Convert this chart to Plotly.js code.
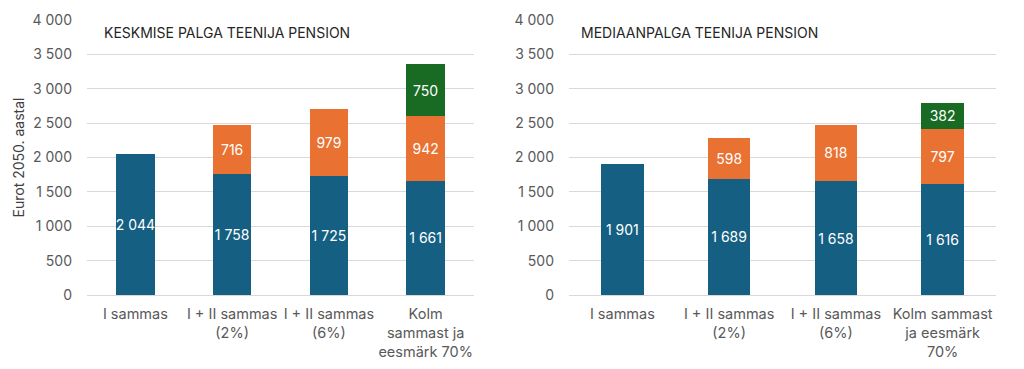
<!DOCTYPE html>
<html><head><meta charset="utf-8">
<script src="https://cdn.plot.ly/plotly-3.0.1.min.js"></script>
<style>html,body{margin:0;padding:0;background:#fff}#chart{width:1024px;height:369px}</style>
</head><body><div id="chart"></div>
<script>
const categoriesLeft = ["I sammas", "I + II sammas<br>(2%)", "I + II sammas<br>(6%)", "Kolm<br>sammast ja<br>eesmärk 70%"];
const categoriesRight = ["I sammas", "I + II sammas<br>(2%)", "I + II sammas<br>(6%)", "Kolm sammast<br>ja eesmärk<br>70%"];
const pillar1Left = [2044, 1758, 1725, 1661];
const pillar2Left = [null, 716, 979, 942];
const pillar3Left = [null, null, null, 750];
const pillar1Right = [1901, 1689, 1658, 1616];
const pillar2Right = [null, 598, 818, 797];
const pillar3Right = [null, null, null, 382];
const titleLeft = "KESKMISE PALGA TEENIJA PENSION";
const titleRight = "MEDIAANPALGA TEENIJA PENSION";
const yTitle = "Eurot 2050. aastal";
const tickVals = [0, 500, 1000, 1500, 2000, 2500, 3000, 3500, 4000];

const FONT = "Inter, sans-serif";
const colors = ["#156082", "#E97132", "#196B24"];

function bar(x, y, color, xa, ya) {
  return {
    type: "bar", x: x, y: y, xaxis: xa, yaxis: ya,
    marker: {color: color, line: {width: 0}},
    texttemplate: "%{y:,}", textposition: "inside", insidetextanchor: "middle",
    textangle: 0, constraintext: "none",
    textfont: {color: "#ffffff", size: 14, family: FONT},
    hoverinfo: "skip", showlegend: false
  };
}

const data = [
  bar(categoriesLeft, pillar1Left, colors[0], "x", "y"),
  bar(categoriesLeft, pillar2Left, colors[1], "x", "y"),
  bar(categoriesLeft, pillar3Left, colors[2], "x", "y"),
  bar(categoriesRight, pillar1Right, colors[0], "x2", "y2"),
  bar(categoriesRight, pillar2Right, colors[1], "x2", "y2"),
  bar(categoriesRight, pillar3Right, colors[2], "x2", "y2")
];

const yDom = [(369 - 295) / 369, (369 - 20) / 369];
function yaxis(anchor, withTitle) {
  const a = {
    domain: yDom, range: [0, 4000], anchor: anchor,
    tickvals: tickVals, tickformat: ",",
    showgrid: true, gridcolor: "#d9d9d9", gridwidth: 1,
    zeroline: false, showline: false, ticks: "",
    ticklabelstandoff: 14,
    tickfont: {size: 14, color: "#595959", family: FONT},
    fixedrange: true
  };
  if (withTitle) a.title = {text: yTitle, font: {size: 14, color: "#404040", family: FONT}, standoff: 4};
  return a;
}
function xaxis(dom, anchor) {
  return {
    domain: dom, anchor: anchor, type: "category",
    showline: true, linecolor: "#d9d9d9", linewidth: 1,
    ticks: "", ticklabelstandoff: 6,
    tickfont: {size: 14.5, color: "#595959", family: FONT},
    fixedrange: true
  };
}

const layout = {
  width: 1024, height: 369,
  margin: {l: 0, r: 0, t: 0, b: 0},
  paper_bgcolor: "#ffffff", plot_bgcolor: "#ffffff",
  barmode: "stack", bargap: 0.6,
  separators: ", ",
  font: {family: FONT},
  xaxis: xaxis([87 / 1024, 474 / 1024], "y"),
  xaxis2: xaxis([569 / 1024, 996 / 1024], "y2"),
  yaxis: yaxis("x", true),
  yaxis2: yaxis("x2", false),
  annotations: [
    {text: titleLeft, xref: "paper", yref: "paper", x: 102 / 1024, y: (369 - 32) / 369,
     xanchor: "left", yanchor: "middle", showarrow: false,
     font: {size: 14, color: "#262626", family: FONT}},
    {text: titleRight, xref: "paper", yref: "paper", x: 579 / 1024, y: (369 - 32) / 369,
     xanchor: "left", yanchor: "middle", showarrow: false,
     font: {size: 14, color: "#262626", family: FONT}}
  ]
};

Plotly.newPlot("chart", data, layout, {displayModeBar: false, staticPlot: true});
</script></body></html>
